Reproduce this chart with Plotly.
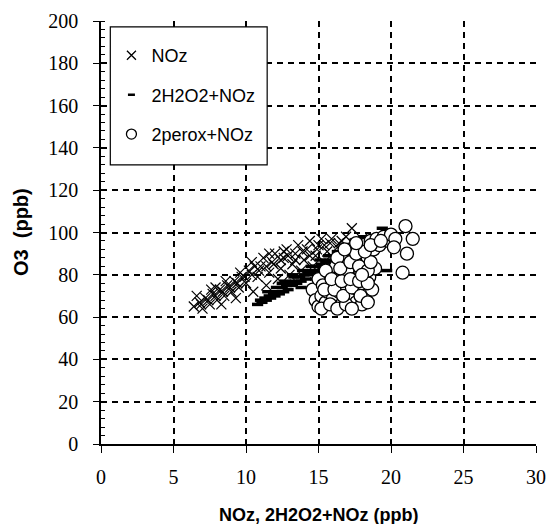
import plotly.graph_objects as go

# NOz series
noz_x = [6.4, 6.8, 7.0, 7.2, 7.5, 7.7, 8.0, 8.2, 8.5, 8.7, 9.0, 9.2, 9.5, 9.7, 10.0, 10.2, 10.4, 10.5,
         10.8, 11.0, 11.2, 11.4, 11.6, 11.8, 12.0, 12.2, 12.4, 12.6, 12.8, 13.0, 13.2, 13.4, 13.6, 13.8,
         14.0, 14.2, 14.4, 14.6, 14.8, 15.0, 15.2, 15.4, 15.6, 15.8, 16.0, 16.3, 16.6, 17.0, 17.3, 17.5,
         18.0, 8.3, 9.3, 6.6, 7.9,
         6.9, 7.4, 7.9, 8.4, 8.9, 9.4, 9.9, 10.4, 10.9, 11.4, 11.9, 12.4, 12.9, 13.4, 13.9, 14.4, 14.9,
         15.4, 15.9, 16.4, 16.9, 7.6, 8.6, 9.6, 10.6, 11.6, 12.6]
noz_y = [65, 67, 64, 69, 66, 71, 68, 73, 70, 75, 72, 77, 74, 79, 76, 82, 86, 72,
         79, 84, 88, 75, 81, 86, 90, 78, 83, 88, 92, 80, 85, 90, 94, 82,
         87, 92, 96, 84, 89, 94, 97, 86, 91, 95, 88, 93, 96, 90, 102, 95,
         97, 66, 69, 70, 74,
         66, 68, 70, 72, 74, 76, 79, 80, 82, 84, 85, 87, 89, 87, 91, 89, 92,
         94, 97, 95, 98, 73, 77, 81, 84, 90, 91]

# 2H2O2+NOz series
h2o2_x = [10.8, 11.1, 11.4, 11.7, 12.0, 12.3, 12.6, 12.9, 13.2, 13.5, 13.8, 14.1, 14.4, 14.7, 15.0,
          15.3, 15.6, 15.9, 16.2, 16.5, 16.8, 17.1, 17.4, 17.7, 18.0, 18.3, 18.6,
          11.0, 11.3, 11.6, 11.9, 12.2, 12.5, 12.8, 13.1, 13.4, 13.7, 14.0, 14.3, 14.6, 14.9,
          15.2, 15.5, 15.8, 16.1, 16.4, 16.7, 17.0, 17.3, 17.6, 17.9, 18.2, 18.5,
          11.5, 12.1, 12.7, 13.3, 13.9, 14.5, 15.1, 15.7, 16.3, 16.9, 17.5, 18.1,
          19.0, 19.4, 19.7, 12.5, 13.2, 14.8, 15.8, 13.8]
h2o2_y = [66, 67, 68, 69, 70, 71, 72, 73, 75, 76, 77, 78, 80, 81, 82,
          83, 84, 86, 87, 88, 89, 90, 91, 92, 93, 94, 95,
          68, 69, 70, 71, 72, 74, 75, 76, 77, 79, 80, 81, 82, 84,
          85, 86, 87, 89, 90, 91, 92, 93, 94, 95, 96, 97,
          72, 74, 77, 79, 82, 84, 87, 89, 91, 94, 96, 98,
          96, 102, 82, 76, 80, 78, 83, 74]

# 2perox+NOz series
perox_x = [14.6, 14.8, 15.0, 15.2, 15.0, 15.3, 15.5, 15.6, 15.8, 16.0, 16.0, 16.2, 16.4, 16.5, 16.6,
           16.8, 16.9, 17.0, 17.1, 17.2, 17.4, 17.5, 17.6, 17.7, 17.8, 17.9, 18.0, 18.1, 18.2, 18.3,
           18.4, 18.5, 18.6, 18.7, 18.8, 18.9, 19.0, 19.2, 19.5, 19.8, 20.0, 20.3, 20.8, 21.1,
           21.5, 21.0, 20.2, 18.0, 16.3, 15.5,
           15.2, 15.8, 16.3, 16.9, 17.3, 15.4, 16.1, 16.7, 17.3, 17.9, 18.4, 15.9, 16.6, 17.2,
           17.8, 18.4, 16.5, 17.2, 17.8, 18.4, 18.6, 17.6, 18.2, 16.8, 17.6, 18.6, 19.3, 18.0]
perox_y = [73, 68, 65, 70, 78, 75, 67, 72, 80, 69, 76, 84, 72, 79, 66,
           88, 75, 82, 70, 92, 78, 86, 67, 73, 90, 81, 76, 94, 70, 85,
           88, 79, 96, 73, 92, 83, 97, 94, 98, 96, 99, 97, 81, 90,
           97, 103, 93, 66, 88, 82,
           64, 66, 64, 66, 64, 73, 73, 70, 74, 70, 67, 78, 77, 78,
           77, 76, 83, 86, 84, 82, 86, 90, 91, 92, 95, 94, 96, 80]

x_ticks = [0, 5, 10, 15, 20, 25, 30]
y_ticks = [0, 20, 40, 60, 80, 100, 120, 140, 160, 180, 200]
legend_names = ["NOz", "2H2O2+NOz", "2perox+NOz"]

fig = go.Figure()
fig.add_trace(go.Scatter(x=noz_x, y=noz_y, mode="markers", showlegend=False,
                         marker=dict(symbol="x-thin", size=10, color="black",
                                     line=dict(color="black", width=1.2))))
fig.add_trace(go.Scatter(x=h2o2_x, y=h2o2_y, mode="markers", showlegend=False,
                         marker=dict(symbol="line-ew", size=8, color="black",
                                     line=dict(color="black", width=3.5))))
fig.add_trace(go.Scatter(x=perox_x, y=perox_y, mode="markers", showlegend=False,
                         marker=dict(symbol="circle", size=13, color="white",
                                     line=dict(color="black", width=1.3))))

# legend-only entries (smaller symbols as in the reference legend)
leg_markers = [
    dict(symbol="x-thin", size=9, color="black", line=dict(color="black", width=1.3)),
    dict(symbol="line-ew", size=5, color="black", line=dict(color="black", width=2.5)),
    dict(symbol="circle-open", size=10, color="black", line=dict(color="black", width=1.3)),
]
for i, (nm, mk) in enumerate(zip(legend_names, leg_markers)):
    fig.add_trace(go.Scatter(x=[None], y=[None], mode="markers", name=nm,
                             legendgroup=str(i), marker=mk))

grid_common = dict(showgrid=True, gridcolor="black", gridwidth=1.6, griddash="6px,5px",
                   zeroline=False, showline=True, linecolor="black", linewidth=1.5,
                   automargin=False,
                   tickfont=dict(family="Liberation Serif", size=20, color="black"))

fig.update_xaxes(range=[0, 30], tickvals=x_ticks, ticks="outside", ticklen=7, tickcolor="black",
                 ticklabelstandoff=7, **grid_common)
fig.update_yaxes(range=[0, 200], tickvals=y_ticks, ticks="outside", ticklen=6, tickcolor="black",
                 ticklabelstandoff=11,
                 minor=dict(dtick=4, ticks="inside", ticklen=4, tickcolor="black", showgrid=False),
                 **grid_common)

fig.add_annotation(text="<b>NOz, 2H2O2+NOz (ppb)</b>", xref="paper", yref="paper",
                   x=0.5, y=-0.168, xanchor="center", yanchor="middle", showarrow=False,
                   font=dict(family="Liberation Sans", size=18, color="black"))
fig.add_annotation(text="<b>O3  (ppb)</b>", xref="paper", yref="paper",
                   x=-0.185, y=0.5, xanchor="center", yanchor="middle", showarrow=False,
                   textangle=-90,
                   font=dict(family="Liberation Sans", size=20, color="black"))

# legend frame
fig.add_shape(type="rect", xref="paper", yref="paper", x0=0.0214, x1=0.382, y0=0.660, y1=0.986,
              line=dict(color="black", width=1.2), fillcolor="white", layer="above")

fig.update_layout(
    width=548, height=524,
    margin=dict(l=101, r=12, t=21, b=80),
    paper_bgcolor="white", plot_bgcolor="white",
    showlegend=True,
    legend=dict(x=0.024, y=0.962, xanchor="left", yanchor="top",
                bgcolor="rgba(0,0,0,0)", borderwidth=0,
                font=dict(family="Liberation Sans", size=18, color="black"),
                tracegroupgap=13, itemsizing="trace"),
)

fig.write_html("out.html", config={"displayModeBar": False},
               post_script="document.body.style.margin='0';document.body.style.overflow='hidden';")
